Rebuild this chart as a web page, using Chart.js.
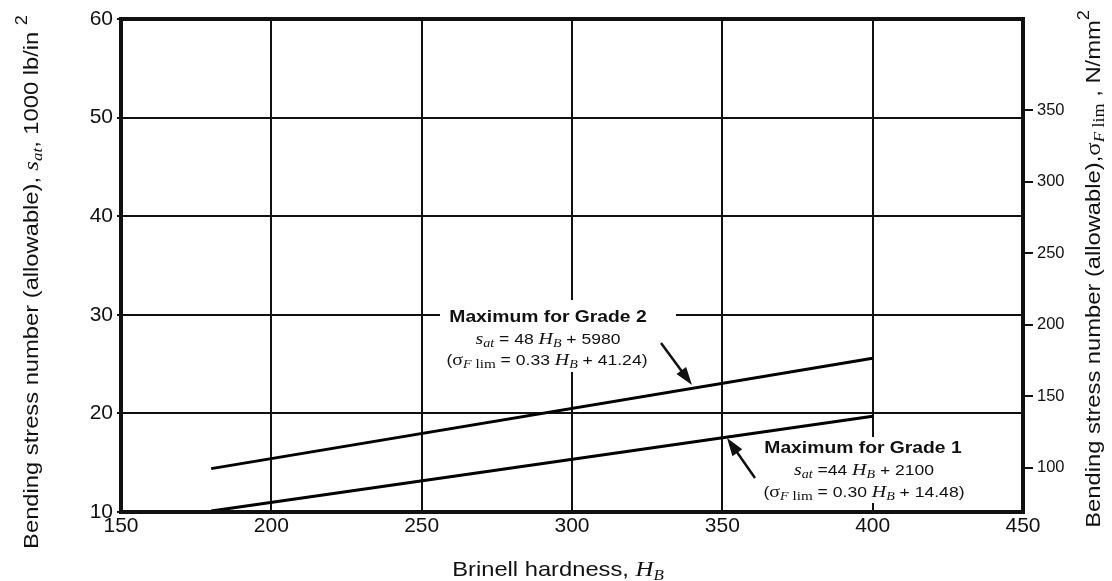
<!DOCTYPE html>
<html>
<head>
<meta charset="utf-8">
<script src="https://cdn.jsdelivr.net/npm/chart.js@4.4.0/dist/chart.umd.min.js"></script>
<style>
  html, body { margin: 0; padding: 0; background: #fff; }
  #wrap { width: 1112px; height: 581px; }
</style>
</head>
<body>
<div id="wrap"><canvas id="chart"></canvas></div>
<script>
// values
const hardness = [180, 400];
const grade2 = [14.4, 25.6];
const grade1 = [10.1, 19.7];
const rightTicks = [100, 150, 200, 250, 300, 350];
const KSI_TO_NMM2 = 6.895;

const SANS = '"Liberation Sans", Arial, sans-serif';
const SERIF = '"Liberation Serif", "Times New Roman", serif';

const toPoints = (ys) => hardness.map((h, i) => ({ x: h, y: ys[i] }));

// draw a centred line of mixed-font text, parts = [text, font, dy]; sx stretches it sideways
const drawRuns = (ctx, parts, x, y, sx = 1) => {
  let w = 0;
  parts.forEach(p => { ctx.font = p[1]; w += ctx.measureText(p[0]).width; });
  ctx.save();
  ctx.translate(x, y);
  ctx.scale(sx, 1);
  let cx = -w / 2;
  parts.forEach(p => {
    ctx.font = p[1];
    ctx.fillText(p[0], cx, p[2] || 0);
    cx += ctx.measureText(p[0]).width;
  });
  ctx.restore();
};

const arrow = (ctx, x1, y1, x2, y2) => {
  const a = Math.atan2(y2 - y1, x2 - x1);
  const len = 18, half = 6;
  ctx.beginPath();
  ctx.moveTo(x1, y1);
  ctx.lineTo(x2 - Math.cos(a) * len * 0.8, y2 - Math.sin(a) * len * 0.8);
  ctx.lineWidth = 2.5;
  ctx.stroke();
  ctx.beginPath();
  ctx.moveTo(x2, y2);
  ctx.lineTo(x2 - Math.cos(a) * len + Math.sin(a) * half, y2 - Math.sin(a) * len - Math.cos(a) * half);
  ctx.lineTo(x2 - Math.cos(a) * len - Math.sin(a) * half, y2 - Math.sin(a) * len + Math.cos(a) * half);
  ctx.closePath();
  ctx.fill();
};

const labelBoxes = {
  id: 'labelBoxes',
  beforeDatasetsDraw(chart) {
    const ctx = chart.ctx;
    ctx.save();
    ctx.fillStyle = '#fff';
    ctx.fillRect(440, 300, 236, 72);
    ctx.fillRect(764, 437, 212, 66);
    ctx.restore();
  }
};

const SX = 1.17;

const annotations = {
  id: 'annotations',
  afterDraw(chart) {
    const ctx = chart.ctx;
    const a = chart.chartArea;
    ctx.save();
    ctx.fillStyle = '#111';
    ctx.strokeStyle = '#111';
    ctx.textBaseline = 'alphabetic';

    // Grade 2 label
    drawRuns(ctx, [['Maximum for Grade 2', 'bold 16.5px ' + SANS]], 548, 322, SX);
    drawRuns(ctx, [
      ['s', 'italic 17px ' + SERIF], ['at', 'italic 12px ' + SERIF, 3],
      [' = 48 ', '15px ' + SANS], ['H', 'italic 17px ' + SERIF], ['B', 'italic 12px ' + SERIF, 3],
      [' + 5980', '15px ' + SANS]
    ], 548, 344, SX);
    drawRuns(ctx, [
      ['(', '15px ' + SANS], ['σ', '17px ' + SERIF], ['F', 'italic 12px ' + SERIF, 3], [' lim', '13px ' + SERIF, 3],
      [' = 0.33 ', '15px ' + SANS], ['H', 'italic 17px ' + SERIF], ['B', 'italic 12px ' + SERIF, 3],
      [' + 41.24)', '15px ' + SANS]
    ], 547, 365, SX);
    arrow(ctx, 661, 343, 692, 385);

    // Grade 1 label
    drawRuns(ctx, [['Maximum for Grade 1', 'bold 16.5px ' + SANS]], 863, 453, SX);
    drawRuns(ctx, [
      ['s', 'italic 17px ' + SERIF], ['at', 'italic 12px ' + SERIF, 3],
      [' =44 ', '15px ' + SANS], ['H', 'italic 17px ' + SERIF], ['B', 'italic 12px ' + SERIF, 3],
      [' + 2100', '15px ' + SANS]
    ], 864, 475, SX);
    drawRuns(ctx, [
      ['(', '15px ' + SANS], ['σ', '17px ' + SERIF], ['F', 'italic 12px ' + SERIF, 3], [' lim', '13px ' + SERIF, 3],
      [' = 0.30 ', '15px ' + SANS], ['H', 'italic 17px ' + SERIF], ['B', 'italic 12px ' + SERIF, 3],
      [' + 14.48)', '15px ' + SANS]
    ], 864, 497, SX);
    arrow(ctx, 755, 478, 727, 438);

    // frame
    ctx.lineWidth = 4;
    ctx.strokeRect(a.left, a.top, a.right - a.left, a.bottom - a.top);

    // x title
    drawRuns(ctx, [
      ['Brinell hardness, ', '21px ' + SANS], ['H', 'italic 22px ' + SERIF], ['B', 'italic 15px ' + SERIF, 4]
    ], 558, 576, 1.13);

    // left title
    ctx.save();
    ctx.translate(38, 282);
    ctx.rotate(-Math.PI / 2);
    drawRuns(ctx, [
      ['Bending stress number (allowable),', '21px ' + SANS], [' s', 'italic 22px ' + SERIF],
      ['at', 'italic 15px ' + SERIF, 4], [', 1000 lb/in ', '21px ' + SANS], ['2', '16px ' + SANS, -11]
    ], 0, 0, 1.13);
    ctx.restore();

    // right title
    ctx.save();
    ctx.translate(1100, 269);
    ctx.rotate(-Math.PI / 2);
    drawRuns(ctx, [
      ['Bending stress number (allowable),', '21px ' + SANS], ['σ', '22px ' + SERIF],
      ['F', 'italic 15px ' + SERIF, 4], [' lim', '16px ' + SERIF, 4], [' , N/mm', '21px ' + SANS],
      ['2', '16px ' + SANS, -11]
    ], 0, 0, 1.13);
    ctx.restore();

    ctx.restore();
  }
};

new Chart(document.getElementById('chart'), {
  type: 'scatter',
  data: {
    datasets: [
      { label: 'Grade 2', data: toPoints(grade2), showLine: true, borderColor: '#000', borderWidth: 3, pointRadius: 0 },
      { label: 'Grade 1', data: toPoints(grade1), showLine: true, borderColor: '#000', borderWidth: 3, pointRadius: 0 }
    ]
  },
  options: {
    responsive: true,
    maintainAspectRatio: false,
    animation: false,
    layout: { padding: { top: 19, left: 0, right: 0, bottom: 0 } },
    plugins: { legend: { display: false }, tooltip: { enabled: false } },
    scales: {
      x: {
        type: 'linear', min: 150, max: 450,
        ticks: { stepSize: 50, color: '#111', font: { size: 21, family: SANS }, padding: 2 },
        grid: { color: '#111', lineWidth: 2, drawTicks: false },
        border: { display: false },
        afterFit: (s) => { s.height = 69; }
      },
      y: {
        type: 'linear', position: 'left', min: 10, max: 60,
        ticks: { stepSize: 10, color: '#111', font: { size: 21, family: SANS }, padding: 4 },
        grid: { color: '#111', lineWidth: 2, tickLength: 4 },
        border: { display: false },
        afterFit: (s) => { s.width = 121; }
      },
      yRight: {
        type: 'linear', position: 'right',
        min: 10 * KSI_TO_NMM2, max: 60 * KSI_TO_NMM2,
        afterBuildTicks: (s) => { s.ticks = rightTicks.map(v => ({ value: v })); },
        ticks: { color: '#111', font: { size: 16.5, family: SANS }, padding: 4 },
        grid: { drawOnChartArea: false, color: '#111', lineWidth: 2, tickLength: 10 },
        border: { display: false },
        afterFit: (s) => { s.width = 89; }
      }
    }
  },
  plugins: [labelBoxes, annotations]
});
</script>
</body>
</html>
